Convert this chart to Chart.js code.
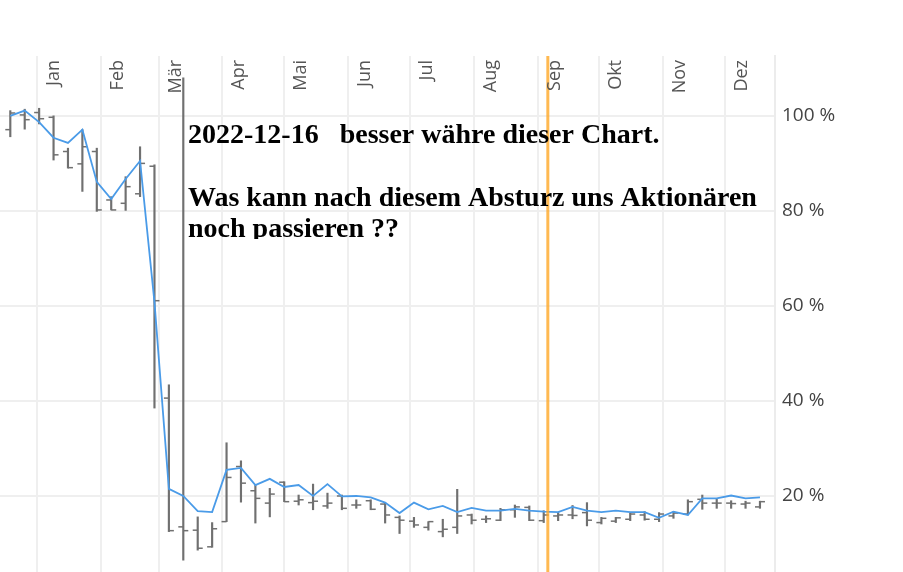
<!DOCTYPE html>
<html>
<head>
<meta charset="utf-8">
<script src="https://cdn.jsdelivr.net/npm/chart.js@4.4.1/dist/chart.umd.min.js"></script>
<style>
  html, body { margin: 0; padding: 0; background: #fff; }
  #wrap { width: 903px; height: 572px; }
</style>
</head>
<body>
<div id="wrap"><canvas id="chart" width="903" height="572"></canvas></div>
<script>
// weekly points
const weeks = [
  '2021-12-19','2021-12-26','2022-01-02','2022-01-09','2022-01-16','2022-01-23','2022-01-30',
  '2022-02-06','2022-02-13','2022-02-20','2022-02-27','2022-03-06','2022-03-13','2022-03-20',
  '2022-03-27','2022-04-03','2022-04-10','2022-04-17','2022-04-24','2022-05-01','2022-05-08',
  '2022-05-15','2022-05-22','2022-05-29','2022-06-05','2022-06-12','2022-06-19','2022-06-26',
  '2022-07-03','2022-07-10','2022-07-17','2022-07-24','2022-07-31','2022-08-07','2022-08-14',
  '2022-08-21','2022-08-28','2022-09-04','2022-09-11','2022-09-18','2022-09-25','2022-10-02',
  '2022-10-09','2022-10-16','2022-10-23','2022-10-30','2022-11-06','2022-11-13','2022-11-20',
  '2022-11-27','2022-12-04','2022-12-11','2022-12-18'
];

const lineValues = [
  100.0, 101.1, 98.7, 95.4, 94.3, 97.1, 86.1, 82.5, 86.7, 90.5, 60.8, 21.5, 20.0, 16.8,
  16.6, 25.5, 25.9, 22.3, 23.6, 21.9, 22.3, 20.0, 22.5, 19.9, 20.0, 19.7, 18.6, 16.4,
  18.6, 17.2, 17.9, 16.6, 17.5, 16.9, 16.9, 17.3, 16.9, 16.7, 16.6, 17.7, 16.9, 16.6,
  16.9, 16.6, 16.6, 15.4, 16.7, 16.0, 19.5, 19.5, 20.1, 19.5, 19.7
];

const openValues = [
  97.1, 100.2, 100.7, 99.7, 92.5, 89.9, 92.5, 82.3, 81.6, 83.6, 89.4, 40.6, 13.5, 12.8,
  9.3, 14.6, 26.2, 21.1, 18.5, 22.9, 18.9, 18.6, 17.9, 20.0, 18.1, 19.0, 18.3, 15.5,
  14.7, 13.4, 12.5, 13.4, 16.0, 15.1, 14.9, 17.1, 17.6, 14.8, 15.8, 16.0, 16.5, 14.4,
  14.7, 15.1, 16.0, 15.1, 15.8, 16.2, 19.3, 18.5, 18.5, 18.3, 17.7
];
const highValues = [
  101.1, 101.4, 101.6, 100.0, 93.2, 97.1, 93.2, 83.0, 87.2, 93.5, 89.7, 43.4, 108.0, 15.6,
  14.4, 31.2, 27.4, 22.3, 21.6, 23.0, 20.2, 22.5, 20.6, 20.2, 19.2, 19.2, 18.5, 15.8,
  15.5, 14.6, 15.1, 21.4, 16.2, 15.8, 17.4, 18.1, 17.9, 16.9, 16.5, 18.0, 18.6, 15.5,
  15.5, 16.4, 16.7, 16.5, 16.7, 19.2, 20.2, 19.3, 19.0, 18.9, 18.9
];
const lowValues = [
  95.6, 97.2, 98.3, 90.7, 89.0, 84.1, 79.9, 80.2, 80.1, 83.0, 38.5, 12.5, 6.5, 8.6,
  9.2, 14.6, 18.7, 14.3, 15.6, 18.8, 18.1, 17.1, 17.4, 17.1, 17.4, 17.1, 14.3, 12.1,
  13.4, 12.8, 11.4, 12.1, 14.1, 14.4, 14.8, 15.5, 14.8, 14.4, 14.8, 15.2, 13.7, 14.1,
  14.4, 14.8, 14.9, 14.6, 15.3, 16.0, 17.2, 17.4, 17.4, 17.4, 17.4
];
const closeValues = [
  100.6, 99.2, 99.4, 91.8, 89.1, 93.5, 80.2, 80.2, 85.1, 90.0, 61.1, 12.7, 12.7, 9.0,
  13.1, 23.9, 22.7, 19.5, 20.4, 18.8, 19.2, 18.9, 18.5, 17.4, 18.1, 17.2, 16.0, 14.9,
  13.9, 14.6, 13.0, 15.8, 14.9, 15.2, 17.1, 17.7, 14.9, 16.0, 16.0, 15.9, 14.9, 15.3,
  15.4, 16.2, 15.1, 16.2, 16.4, 18.8, 18.5, 18.5, 18.4, 18.5, 18.8
];

const monthStarts = ['2022-01-01','2022-02-01','2022-03-01','2022-04-01','2022-05-01','2022-06-01',
  '2022-07-01','2022-08-01','2022-09-01','2022-10-01','2022-11-01','2022-12-01'];
const monthLabels = ['Jan','Feb','Mär','Apr','Mai','Jun','Jul','Aug','Sep','Okt','Nov','Dez'];
const yTicks = [20, 40, 60, 80, 100];
const markerDate = '2022-09-06';
const noteLines = [
  '2022-12-16   besser währe dieser Chart.',
  '',
  'Was kann nach diesem Absturz uns Aktionären',
  'noch passieren ??'
];

const GRAY = '#707070';

function dayOf(s) {
  return (Date.parse(s) - Date.parse('2022-01-01')) / 86400000;
}
const days = weeks.map(dayOf);
const pts = vals => vals.map((v, i) => ({x: days[i], y: v}));

function noPadding(s) {
  s.paddingTop = 0; s.paddingBottom = 0;
  s.paddingLeft = 0; s.paddingRight = 0;
}

const monthLabelPlugin = {
  id: 'monthLabels',
  afterDraw(chart) {
    const ctx = chart.ctx, xs = chart.scales.x;
    ctx.save();
    ctx.font = '18px "Open Sans"';
    ctx.fillStyle = '#555';
    ctx.textAlign = 'right';
    ctx.textBaseline = 'alphabetic';
    monthStarts.forEach((m, i) => {
      const x = xs.getPixelForValue(dayOf(m)) + 22;
      ctx.save();
      ctx.translate(x, 60);
      ctx.rotate(-Math.PI / 2);
      ctx.fillText(monthLabels[i], 0, 0);
      ctx.restore();
    });
    ctx.restore();
  }
};

const markerPlugin = {
  id: 'marker',
  afterDatasetsDraw(chart) {
    const ctx = chart.ctx, a = chart.chartArea;
    const x = chart.scales.x.getPixelForValue(dayOf(markerDate));
    ctx.save();
    ctx.strokeStyle = 'rgba(255,167,38,0.8)';
    ctx.lineWidth = 3;
    ctx.beginPath();
    ctx.moveTo(x, a.top);
    ctx.lineTo(x, a.bottom);
    ctx.stroke();
    ctx.restore();
  }
};

const notePlugin = {
  id: 'note',
  afterDraw(chart) {
    const ctx = chart.ctx;
    ctx.save();
    ctx.beginPath();
    ctx.rect(185, 100, 700, 139);
    ctx.clip();
    ctx.font = 'bold 28px "Liberation Serif"';
    ctx.fillStyle = '#000';
    ctx.textAlign = 'left';
    ctx.textBaseline = 'alphabetic';
    noteLines.forEach((t, i) => ctx.fillText(t, 188, 143 + i * 31.3));
    ctx.restore();
  }
};

const config = {
  type: 'line',
  data: {
    datasets: [
      {
        type: 'line',
        data: pts(lineValues),
        borderColor: '#4a9be8',
        borderWidth: 1.8,
        pointRadius: 0,
        tension: 0,
        order: 0
      },
      {
        type: 'line',
        data: pts(openValues),
        showLine: false,
        pointStyle: 'dash',
        rotation: 180,
        pointRadius: 5,
        pointBorderWidth: 1.5,
        pointBorderColor: GRAY,
        order: 1
      },
      {
        type: 'line',
        data: pts(closeValues),
        showLine: false,
        pointStyle: 'dash',
        rotation: 0,
        pointRadius: 5,
        pointBorderWidth: 1.5,
        pointBorderColor: GRAY,
        order: 1
      },
      {
        type: 'bar',
        data: days.map((d, i) => ({x: d, y: [lowValues[i], highValues[i]]})),
        backgroundColor: GRAY,
        borderWidth: 0,
        barThickness: 1.5,
        order: 2
      }
    ]
  },
  options: {
    responsive: false,
    animation: false,
    layout: { autoPadding: false, padding: { top: 56, left: 0, right: 0, bottom: 0 } },
    plugins: {
      legend: { display: false },
      tooltip: { enabled: false }
    },
    scales: {
      x: {
        type: 'linear',
        position: 'top',
        min: -18,
        max: 358.3,
        offset: false,
        afterBuildTicks: s => { s.ticks = monthStarts.map(m => ({value: dayOf(m)})); },
        afterFit: s => { s.height = 0; noPadding(s); },
        ticks: { display: false },
        border: { display: false },
        grid: { color: '#efefef', lineWidth: 2, drawTicks: false, offset: false }
      },
      y: {
        position: 'right',
        min: 4,
        max: 112.6,
        afterBuildTicks: s => { s.ticks = yTicks.map(v => ({value: v})); },
        afterFit: s => { s.width = 128; noPadding(s); },
        ticks: {
          padding: 7,
          color: '#444',
          font: { family: '"Open Sans"', size: 19 },
          callback: v => v + ' %'
        },
        border: { display: true, color: '#ececec', width: 2 },
        grid: { color: '#efefef', lineWidth: 2, drawTicks: false }
      }
    }
  },
  plugins: [markerPlugin, monthLabelPlugin, notePlugin]
};

const chart = new Chart(document.getElementById('chart'), config);
</script>
</body>
</html>
